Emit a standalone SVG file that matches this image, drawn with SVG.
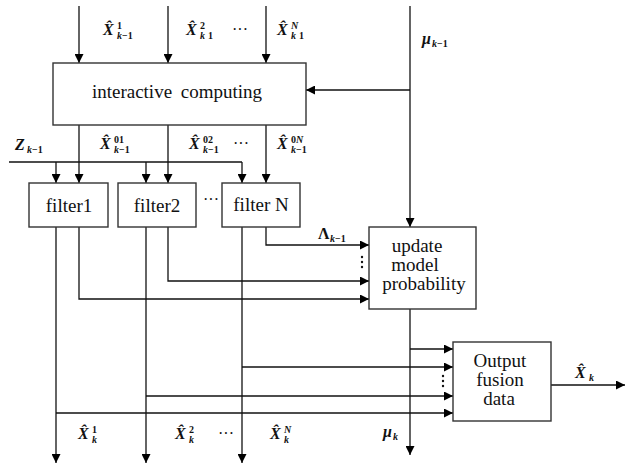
<svg xmlns="http://www.w3.org/2000/svg" width="627" height="466" viewBox="0 0 627 466">
<defs>
<marker id="ah" viewBox="0 0 10 10" refX="10" refY="5" markerWidth="9" markerHeight="9" markerUnits="userSpaceOnUse" orient="auto">
<path d="M0,0 L10,5 L0,10 z" fill="#000"/>
</marker>
<style>
.box{fill:#fff;stroke:#333;stroke-width:1.4}
.ln{fill:none;stroke:#111;stroke-width:1.3}
.arr{fill:none;stroke:#111;stroke-width:1.3;marker-end:url(#ah)}
.t{font-family:"Liberation Serif","Times New Roman",serif;font-size:19px;fill:#111}
.m{font-family:"Liberation Serif","Times New Roman",serif;font-weight:bold;font-style:italic;font-size:16px;fill:#111}
.mu{font-family:"Liberation Serif","Times New Roman",serif;font-weight:bold;font-style:normal;font-size:16px;fill:#111}
.s{font-family:"Liberation Serif","Times New Roman",serif;font-weight:bold;font-style:normal;font-size:10px;fill:#111}
.si{font-family:"Liberation Serif","Times New Roman",serif;font-weight:bold;font-style:italic;font-size:10px;fill:#111}
.d{font-family:"Liberation Serif","Times New Roman",serif;font-size:16px;fill:#111}
</style>
</defs>
<rect width="627" height="466" fill="#fff"/>
<g id="connectors">
<path class="arr" d="M79,6 V63"/>
<path class="arr" d="M168,6 V63"/>
<path class="arr" d="M266,6 V63"/>
<path class="arr" d="M410,6 V227"/>
<path class="arr" d="M410,90 H306"/>
<path class="arr" d="M79,125 V183"/>
<path class="arr" d="M168,125 V183"/>
<path class="arr" d="M266,125 V183"/>
<path class="ln" d="M9,162 H242"/>
<path class="arr" d="M56,162 V183"/>
<path class="arr" d="M146,162 V183"/>
<path class="arr" d="M242,162 V183"/>
<path class="arr" d="M56,227 V463"/>
<path class="arr" d="M146,227 V463"/>
<path class="arr" d="M242,227 V463"/>
<path class="arr" d="M79,227 V299 H369"/>
<path class="arr" d="M168,227 V281 H369"/>
<path class="arr" d="M266,227 V245 H369"/>
<path class="arr" d="M410,309 V455"/>
<path class="arr" d="M410,349 H453"/>
<path class="arr" d="M242,367 H453"/>
<path class="arr" d="M146,396 H453"/>
<path class="arr" d="M56,413 H453"/>
<path class="arr" d="M551,385 H625"/>
</g>
<g id="interactive">
<rect class="box" x="53" y="63" width="253" height="62"/>
<text class="t" x="177" y="98" text-anchor="middle" word-spacing="4">interactive computing</text>
</g>
<g id="filter1">
<rect class="box" x="29" y="183" width="79" height="44"/>
<text class="t" x="69" y="212" text-anchor="middle">filter1</text>
</g>
<g id="filter2">
<rect class="box" x="118" y="183" width="78" height="44"/>
<text class="t" x="157" y="212" text-anchor="middle">filter2</text>
</g>
<g id="filterN">
<rect class="box" x="222" y="183" width="78" height="44"/>
<text class="t" x="261" y="211" text-anchor="middle">filter N</text>
</g>
<g id="update">
<rect class="box" x="369" y="227" width="107" height="82"/>
<text class="t" x="417" y="252" text-anchor="middle">update</text>
<text class="t" x="415" y="271" text-anchor="middle">model</text>
<text class="t" x="424" y="290" text-anchor="middle">probability</text>
</g>
<g id="fusion">
<rect class="box" x="453" y="342" width="98" height="79"/>
<text class="t" x="500" y="367" text-anchor="middle">Output</text>
<text class="t" x="500" y="386" text-anchor="middle">fusion</text>
<text class="t" x="499" y="405" text-anchor="middle">data</text>
</g>
<g id="labels">
<text class="m" x="103" y="35">X̂</text><text class="s" x="117" y="29">1</text><text class="si" x="117" y="39">k<tspan class="s">−1</tspan></text>
<text class="m" x="186" y="35">X̂</text><text class="s" x="200" y="29">2</text><text class="si" x="200" y="39">k<tspan class="s" dx="3">1</tspan></text>
<text class="d" x="232" y="35">···</text>
<text class="m" x="277" y="35">X̂</text><text class="si" x="291" y="29">N</text><text class="si" x="291" y="39">k<tspan class="s" dx="3">1</tspan></text>
<text class="m" x="422" y="44">μ</text><text class="si" x="432" y="47">k<tspan class="s">−1</tspan></text>
<text class="m" x="15" y="150">Z</text><text class="si" x="27" y="153">k<tspan class="s">−1</tspan></text>
<text class="m" x="100" y="149">X̂</text><text class="s" x="114" y="143">01</text><text class="si" x="114" y="153">k<tspan class="s">−1</tspan></text>
<text class="m" x="189" y="149">X̂</text><text class="s" x="203" y="143">02</text><text class="si" x="203" y="153">k<tspan class="s">−1</tspan></text>
<text class="d" x="233" y="149">···</text>
<text class="m" x="277" y="149">X̂</text><text class="s" x="291" y="143">0<tspan class="si">N</tspan></text><text class="si" x="291" y="153">k<tspan class="s">−1</tspan></text>
<text class="d" x="203" y="205">···</text>
<text class="mu" x="318" y="239">Λ</text><text class="si" x="330" y="242">k<tspan class="s">−1</tspan></text>
<circle cx="362" cy="257" r="1.2" fill="#111"/><circle cx="362" cy="262" r="1.2" fill="#111"/><circle cx="362" cy="267" r="1.2" fill="#111"/>
<circle cx="443" cy="376" r="1.2" fill="#111"/><circle cx="443" cy="381" r="1.2" fill="#111"/><circle cx="443" cy="386" r="1.2" fill="#111"/>
<text class="m" x="78" y="439">X̂</text><text class="s" x="92" y="433">1</text><text class="si" x="92" y="443">k</text>
<text class="m" x="175" y="439">X̂</text><text class="s" x="189" y="433">2</text><text class="si" x="189" y="443">k</text>
<text class="d" x="218" y="439">···</text>
<text class="m" x="270" y="439">X̂</text><text class="si" x="284" y="433">N</text><text class="si" x="284" y="443">k</text>
<text class="m" x="383" y="437">μ</text><text class="si" x="393" y="440">k</text>
<text class="m" x="575" y="378">X̂</text><text class="si" x="589" y="381">k</text>
</g>
</svg>
